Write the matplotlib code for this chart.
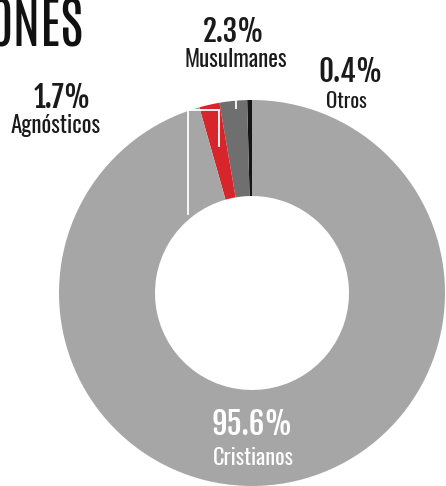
import numpy as np
import matplotlib
matplotlib.use('Agg')
import matplotlib.pyplot as plt

plt.rcParams['font.family'] = ['Oswald', 'DejaVu Sans']
fuente_pct = ['Fjalla One', 'Oswald', 'DejaVu Sans']
fuente_tit = ['Antonio', 'Oswald', 'DejaVu Sans']

# datos
categorias = ['Otros', 'Musulmanes', 'Agnósticos', 'Cristianos']
porcentajes = [0.4, 2.3, 1.7, 95.6]
colores = ['#151515', '#6f6f6f', '#d7262b', '#a6a6a6']
etiquetas_pct = ['0.4%', '2.3%', '1.7%', '95.6%']
titulo = 'ONES'

W, H = 446, 486
fig = plt.figure(figsize=(W / 100, H / 100), dpi=100)
ax = fig.add_axes([0, 0, 1, 1])

cx, cy = 252, H - 293
R = 193
ancho = 96

wedges, _ = ax.pie(porcentajes, colors=colores, startangle=90, counterclock=True,
                   radius=R, center=(cx, cy),
                   wedgeprops=dict(width=ancho, linewidth=0))
ax.set_xlim(0, W)
ax.set_ylim(0, H)
ax.set_aspect('equal')
ax.axis('off')


def pos(ang, r):
    a = np.deg2rad(ang)
    return cx + r * np.cos(a), cy + r * np.sin(a)


# lineas guia blancas
w_mus = wedges[1]
ang_mus = (w_mus.theta1 + w_mus.theta2) / 2
p1 = pos(ang_mus, R * 0.96)
p2 = pos(ang_mus, R * 1.07)
ax.plot([p2[0] + 4, p2[0] + 4], [p1[1], p2[1]], color='white', lw=1.3, solid_capstyle='butt')

w_agn = wedges[2]
ang_agn = (w_agn.theta1 + w_agn.theta2) / 2
fin = pos(ang_agn, R * 0.78)
x_izq = cx - 0.33 * R
y_top = cy + 0.95 * R
y_bot = cy + 0.41 * R
ax.plot([x_izq, x_izq, fin[0], fin[0]], [y_bot, y_top, y_top, fin[1]],
        color='white', lw=1.3, solid_joinstyle='miter')

# textos
ax.text(84, H - 47, titulo, fontsize=40, family=fuente_tit, color='#111111',
        ha='right', va='baseline')

ax.text(234, H - 42, etiquetas_pct[1], fontsize=21, family=fuente_pct, color='#1a1a1a',
        ha='center', va='baseline')
ax.text(236, H - 67, categorias[1], fontsize=16.5, color='#1a1a1a', ha='center', va='baseline')

ax.text(351, H - 82, etiquetas_pct[0], fontsize=21, family=fuente_pct, color='#1a1a1a',
        ha='center', va='baseline')
ax.text(346, H - 108, categorias[0], fontsize=15, color='#1a1a1a', ha='center', va='baseline')

ax.text(62, H - 108, etiquetas_pct[2], fontsize=21, family=fuente_pct, color='#1a1a1a',
        ha='center', va='baseline')
ax.text(56, H - 133, categorias[2], fontsize=16.5, color='#1a1a1a', ha='center', va='baseline')

ax.text(252, H - 435, etiquetas_pct[3], fontsize=22, family=fuente_pct, color='white',
        ha='center', va='baseline')
ax.text(253, H - 465, categorias[3], fontsize=16, color='white', ha='center', va='baseline')

fig.savefig('out.png', dpi=100, facecolor='white')
